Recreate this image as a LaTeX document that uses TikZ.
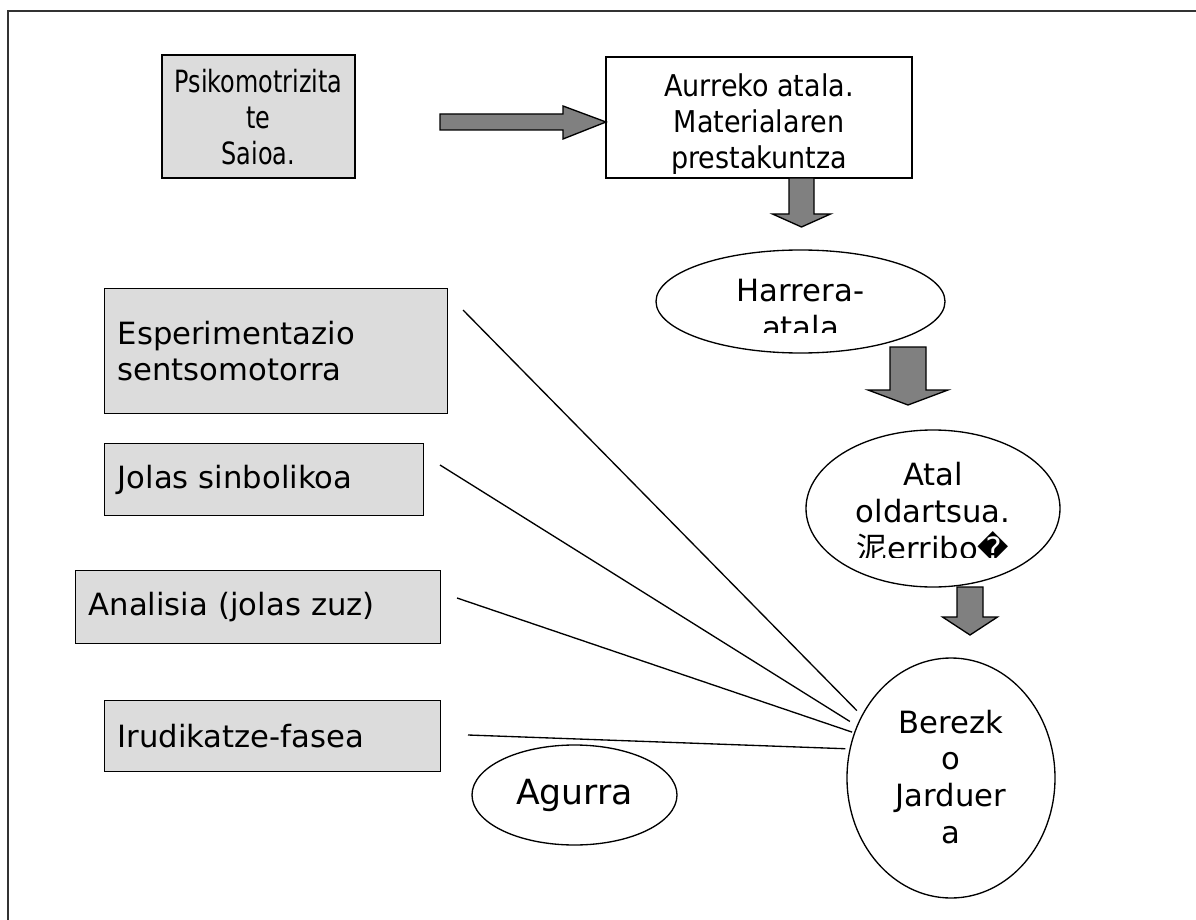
\documentclass[tikz,border=0pt]{standalone}
\usepackage{fontspec}
\setmainfont{DejaVu Sans}
\newfontfamily\cjk{Noto Sans CJK SC}
\newfontfamily\narrowfont{DejaVu Sans}[FakeStretch=0.78]
\newfontfamily\semifont{DejaVu Sans}[FakeStretch=0.9]
\usetikzlibrary{positioning,shapes.geometric}
\definecolor{boxgrey}{HTML}{DCDCDC}
\definecolor{arrowgrey}{HTML}{808080}
\definecolor{framegrey}{HTML}{333333}
\tikzset{
    greybox/.style={
           rectangle,
           draw=black, line width=1pt,
           fill=boxgrey,
           inner xsep=9.75pt,
           align=left,
           font=\fontsize{23}{27.5}\selectfont,
           anchor=north west,
           },
    whitebox/.style={
           rectangle,
           draw=black, line width=1pt,
           fill=white,
           },
    phase/.style={
           ellipse,
           draw=black, line width=1pt,
           fill=white,
           inner sep=0pt,
           },
    txt/.style={
           inner sep=0pt,
           align=center,
           font=\fontsize{23}{27.5}\selectfont,
           anchor=base,
           },
    blk/.style={draw=black, line width=1pt, fill=arrowgrey},
    wire/.style={draw=black, line width=1pt},
    frame/.style={draw=framegrey, line width=1.3pt},
}
% block arrow pointing down: top point, half shaft, shaft length, half head, head length
\newcommand{\blkdown}[5]{%
  \draw[blk] (#1) ++(-#2,0) -- ++(2*#2,0) -- ++(0,#3) -- ++(#4-#2,0)
    -- ++(-#4,#5) -- ++(-#4,-#5) -- ++(#4-#2,0) -- cycle;}

\begin{document}
\begin{tikzpicture}[x=0.75pt,y=-0.75pt]
 \useasboundingbox (0,0) rectangle (1196,920);

 % frame, open on the right and at the bottom
 \draw[frame] (1196,11) -- (8,11) -- (8,920);

 % Session box
 \node[greybox, anchor=center,
 minimum width=144.75pt, minimum height=92.25pt] (psiko) at (258.5,116.5) {};
 \node[txt, font=\narrowfont\fontsize{23}{27}\selectfont] (psikotxt) at (258.5,165)
 {Psikomotrizita\\te\\Saioa.};

 % Preparation box, text cut off at the bottom
 \node[whitebox, minimum width=229.5pt, minimum height=90.75pt] (aurreko) at (759,117.5) {};
 \begin{scope}
  \clip (606,57) rectangle (912,174);
  \node[txt, font=\semifont\fontsize{22.5}{27}\selectfont] (aurrekotxt) at (759,169)
  {Aurreko atala.\\Materialaren\\prestakuntza};
 \end{scope}

 % the phases
 \node[phase, minimum width=216.75pt, minimum height=77.25pt] (harrera) at (800.5,301.5) {};
 \begin{scope}
  \clip (656,250) rectangle (945,332);
  \node[txt] (harreratxt) at (800.5,338) {Harrera-\\atala};
 \end{scope}

 \node[phase, minimum width=190.5pt, minimum height=117.75pt] (atal) at (933,508.5) {};
 \begin{scope}
  \clip (806,430) rectangle (1060,557);
  \node[txt] (ataltxt) at (933,559) {Atal\\oldartsua.\\{\cjk 泥}erribo�};
 \end{scope}

 \node[phase, minimum width=156pt, minimum height=180pt] (berezko) at (951,778) {};
 \begin{scope}
  \clip (847,658) rectangle (1055,858);
  \node[txt] (berezkotxt) at (951,843) {Berezk\\o\\Jarduer\\a};
 \end{scope}

 \node[phase, minimum width=153.75pt, minimum height=75pt,
 font=\fontsize{26}{30}\selectfont] (agurra) at (574.5,795) {Agurra};

 % the grey boxes on the left
 \node[greybox, text width=237.75pt, minimum height=93.75pt] (espe) at (104,288)
 {Esperimentazio\\sentsomotorra};
 \node[greybox, text width=219.75pt, minimum height=54pt] (jolas) at (104,443)
 {Jolas sinbolikoa};
 \node[greybox, text width=254.25pt, minimum height=54.75pt] (analisia) at (75,570)
 {Analisia (jolas zuz)};
 \node[greybox, text width=232.5pt, minimum height=53.25pt] (irudi) at (104,700)
 {Irudikatze-fasea};

 % block arrows
 \coordinate (r0) at (440,122);
 \draw[blk] (r0) ++(0,-8) -- ++(123,0) -- ++(0,-8) -- ++(43,16)
   -- ++(-43,17) -- ++(0,-9) -- ++(-123,0) -- cycle;
 \coordinate (d1) at (801.5,178);
 \blkdown{d1}{12.5}{36}{29}{13}
 \coordinate (d2) at (908,347);
 \blkdown{d2}{18}{43}{40}{15}
 \coordinate (d3) at (970,587);
 \blkdown{d3}{13}{30}{27.5}{18}

 % lines to the special activity
 \coordinate (e1) at (463,310);
 \coordinate (e2) at (440,465);
 \coordinate (e3) at (457,598);
 \coordinate (e4) at (468,735);
 \draw[wire, shorten >=5pt] (e1) -- (berezko.145);
 \draw[wire, shorten >=6pt] (e2) -- (berezko.151);
 \draw[wire, shorten >=1.5pt] (e3) -- (berezko.155);
 \draw[wire, shorten >=3pt] (e4) -- (berezko.164);
\end{tikzpicture}
\end{document}
